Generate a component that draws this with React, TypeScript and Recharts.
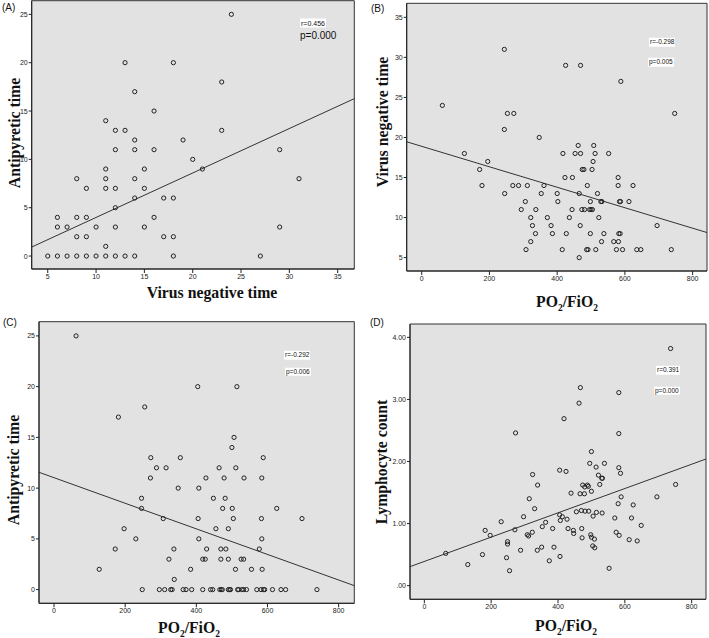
import * as React from 'react'
import { ScatterChart, Scatter, XAxis, YAxis, ReferenceArea, ReferenceLine } from 'recharts'

// (A) virus negative time vs antipyretic time
const aVirus = [24, 13, 18, 23, 14, 16, 11, 12, 13, 23, 14, 19, 12, 14, 16, 29, 20, 11, 15, 21, 8, 11, 14, 31, 9, 11, 12, 15, 14, 17, 18, 12, 6, 8, 9, 16, 6, 7, 10, 12, 15, 29, 8, 9, 17, 18, 11, 5, 6, 7, 8, 9, 10, 11, 12, 13, 14, 18, 27]
const aFever = [25, 20, 20, 18, 17, 15, 14, 13, 13, 13, 12, 12, 11, 11, 11, 11, 10, 9, 9, 9, 8, 8, 8, 8, 7, 7, 7, 7, 6, 6, 6, 5, 4, 4, 4, 4, 3, 3, 3, 3, 3, 3, 2, 2, 2, 2, 1, 0, 0, 0, 0, 0, 0, 0, 0, 0, 0, 0, 0]
const aFit = [0.93, 16.28]

// (B) PO2/FiO2 vs virus negative time
const bRatio = [244, 425, 469, 588, 61, 253, 272, 747, 244, 347, 462, 508, 126, 417, 453, 469, 512, 552, 195, 506, 171, 474, 479, 503, 423, 445, 580, 178, 269, 286, 312, 361, 489, 580, 624, 245, 353, 400, 465, 519, 306, 402, 498, 529, 532, 584, 587, 612, 294, 337, 444, 473, 481, 496, 500, 504, 322, 371, 436, 523, 327, 382, 468, 695, 336, 386, 427, 498, 538, 582, 586, 322, 531, 567, 581, 308, 415, 487, 491, 514, 575, 593, 635, 647, 737, 465]
const bVirus = [31, 29, 29, 27, 24, 23, 23, 23, 21, 20, 19, 19, 18, 18, 18, 18, 18, 18, 17, 17, 16, 16, 16, 16, 15, 15, 15, 14, 14, 14, 14, 14, 14, 14, 14, 13, 13, 13, 13, 13, 12, 12, 12, 12, 12, 12, 12, 12, 11, 11, 11, 11, 11, 11, 11, 11, 10, 10, 10, 10, 9, 9, 9, 9, 8, 8, 8, 8, 8, 8, 8, 7, 7, 7, 7, 6, 6, 6, 6, 6, 6, 6, 6, 6, 6, 5]
const bFit = [19.46, 8.13]

// (C) PO2/FiO2 vs antipyretic time
const cRatio = [62, 404, 514, 255, 181, 506, 500, 272, 355, 588, 288, 315, 464, 511, 271, 427, 478, 534, 584, 349, 407, 448, 481, 246, 246, 474, 501, 626, 307, 405, 504, 583, 697, 197, 455, 490, 230, 407, 584, 172, 337, 429, 469, 483, 577, 323, 418, 425, 469, 490, 526, 533, 127, 384, 510, 555, 585, 338, 248, 296, 311, 328, 332, 363, 371, 387, 418, 440, 446, 466, 470, 473, 490, 494, 496, 516, 519, 528, 533, 541, 570, 582, 589, 592, 614, 638, 651, 739]
const cFever = [25, 20, 20, 18, 17, 15, 14, 13, 13, 13, 12, 12, 12, 12, 11, 11, 11, 11, 11, 10, 10, 9, 9, 9, 8, 8, 8, 8, 7, 7, 7, 7, 7, 6, 6, 6, 5, 5, 5, 4, 4, 4, 4, 4, 4, 3, 3, 3, 3, 3, 3, 3, 2, 2, 2, 2, 2, 1, 0, 0, 0, 0, 0, 0, 0, 0, 0, 0, 0, 0, 0, 0, 0, 0, 0, 0, 0, 0, 0, 0, 0, 0, 0, 0, 0, 0, 0, 0]
const cFit = [11.56, 0.39]

// (D) PO2/FiO2 vs lymphocyte count
const dRatio = [737, 467, 582, 463, 418, 273, 582, 500, 495, 539, 514, 582, 405, 424, 587, 324, 521, 531, 533, 339, 474, 488, 491, 480, 752, 525, 500, 439, 466, 479, 589, 696, 314, 580, 625, 330, 470, 481, 492, 455, 532, 515, 405, 413, 505, 297, 570, 620, 427, 407, 230, 363, 649, 353, 182, 271, 430, 384, 471, 446, 447, 574, 323, 308, 312, 498, 500, 197, 583, 472, 509, 613, 637, 249, 249, 504, 510, 351, 388, 288, 338, 64, 174, 406, 246, 374, 130, 553, 255]
const dLymph = [3.82, 3.19, 3.11, 2.94, 2.69, 2.46, 2.45, 2.16, 1.97, 1.97, 1.91, 1.9, 1.86, 1.84, 1.81, 1.79, 1.78, 1.73, 1.73, 1.62, 1.62, 1.62, 1.6, 1.59, 1.63, 1.63, 1.52, 1.49, 1.48, 1.48, 1.43, 1.43, 1.4, 1.32, 1.3, 1.24, 1.21, 1.2, 1.2, 1.19, 1.17, 1.18, 1.14, 1.11, 1.12, 1.11, 1.09, 1.09, 1.07, 1.05, 1.03, 1.02, 0.97, 0.95, 0.89, 0.9, 0.92, 0.92, 0.92, 0.89, 0.84, 0.86, 0.86, 0.82, 0.8, 0.82, 0.78, 0.81, 0.81, 0.77, 0.75, 0.74, 0.72, 0.71, 0.67, 0.64, 0.61, 0.62, 0.62, 0.57, 0.57, 0.52, 0.5, 0.47, 0.45, 0.4, 0.34, 0.28, 0.24]
const dFit = [0.306, 2.04]

const ratioTicks = [0, 200, 400, 600, 800]

const zip = (xs: number[], ys: number[]) => xs.map((x, i) => ({ x, y: ys[i] }))

const tickStyle = { fontSize: 7, fill: '#222', fontFamily: 'Liberation Sans, Arial, sans-serif' }

const Dot = (p: any) => <circle cx={p.cx} cy={p.cy} r={2.1} fill="none" stroke="#222" strokeWidth={1} />

interface PanelProps {
  data: { x: number; y: number }[]
  fit: number[]
  xDomain: number[]
  yDomain: number[]
  xTicks: number[]
  yTicks: number[]
  width: number
  height: number
  axisW: number
  margin: { top: number; right: number; bottom: number; left: number }
  yFormat?: (v: number) => string
}

function Panel({ data, fit, xDomain, yDomain, xTicks, yTicks, width, height, axisW, margin, yFormat }: PanelProps) {
  return (
    <ScatterChart width={width} height={height} margin={margin}>
      <XAxis
        type="number"
        dataKey="x"
        domain={xDomain}
        allowDataOverflow
        ticks={xTicks}
        height={14}
        tickSize={4}
        tickMargin={1}
        tick={tickStyle}
        stroke="#222"
        interval={0}
      />
      <YAxis
        type="number"
        dataKey="y"
        domain={yDomain}
        allowDataOverflow
        ticks={yTicks}
        width={axisW}
        tickSize={3}
        tickMargin={1}
        tick={tickStyle}
        tickFormatter={yFormat}
        stroke="#222"
        interval={0}
      />
      <ReferenceArea
        x1={xDomain[0]}
        x2={xDomain[1]}
        y1={yDomain[0]}
        y2={yDomain[1]}
        fill="#e2e2e2"
        fillOpacity={1}
        stroke="#333"
        strokeWidth={1}
        ifOverflow="visible"
      />
      <ReferenceLine
        segment={[
          { x: xDomain[0], y: fit[0] },
          { x: xDomain[1], y: fit[1] },
        ]}
        stroke="#333"
        strokeWidth={1}
        ifOverflow="visible"
      />
      <Scatter data={data} shape={Dot} isAnimationActive={false} />
    </ScatterChart>
  )
}

const serif: React.CSSProperties = {
  position: 'absolute',
  fontFamily: 'Liberation Serif, Times New Roman, serif',
  fontWeight: 'bold',
  fontSize: 17.5,
  whiteSpace: 'nowrap',
  lineHeight: 1,
  color: '#111',
}

const sans: React.CSSProperties = {
  position: 'absolute',
  fontFamily: 'Liberation Sans, Arial, sans-serif',
  whiteSpace: 'nowrap',
  lineHeight: 1,
  color: '#111',
}

const Sub = ({ children }: { children: React.ReactNode }) => (
  <span style={{ fontSize: '0.6em', position: 'relative', top: '0.35em' }}>{children}</span>
)

const Ratio = () => (
  <>
    PO<Sub>2</Sub>/FiO<Sub>2</Sub>
  </>
)

function XTitle({ x, y, children }: { x: number; y: number; children: React.ReactNode }) {
  return <div style={{ ...serif, left: x, top: y, transform: 'translate(-50%,-50%) scaleX(0.9)' }}>{children}</div>
}

function YTitle({ x, y, children }: { x: number; y: number; children: React.ReactNode }) {
  return (
    <div style={{ ...serif, left: x, top: y, transform: 'translate(-50%,-50%) rotate(-90deg) scaleX(0.9)' }}>
      {children}
    </div>
  )
}

function Note({ x, y, size, box, children }: { x: number; y: number; size: number; box?: boolean; children: React.ReactNode }) {
  return (
    <div style={{ ...sans, left: x, top: y, fontSize: size, transform: 'translateY(-50%)', background: box ? '#fff' : 'transparent', padding: box ? '1px 1px' : 0 }}>
      {children}
    </div>
  )
}

export default function App() {
  return (
    <div style={{ position: 'absolute', left: 0, top: 0, width: 709, height: 638, background: '#fff', overflow: 'hidden' }}>
      <div style={{ position: 'absolute', left: 0, top: 0 }}>
        <Panel
          data={zip(aVirus, aFever)}
          fit={aFit}
          xDomain={[3.34, 36.72]}
          yDomain={[-1.34, 26.41]}
          xTicks={[5, 10, 15, 20, 25, 30, 35]}
          yTicks={[0, 5, 10, 15, 20, 25]}
          width={360}
          height={290}
          axisW={31.7}
          margin={{ top: 0.7, right: 5.7, bottom: 7, left: 0 }}
        />
      </div>
      <div style={{ position: 'absolute', left: 360, top: 0 }}>
        <Panel
          data={zip(bRatio, bVirus)}
          fit={bFit}
          xDomain={[-44.3, 842.4]}
          yDomain={[3.33, 36.75]}
          xTicks={ratioTicks}
          yTicks={[5, 10, 15, 20, 25, 30, 35]}
          width={349}
          height={290}
          axisW={46.7}
          margin={{ top: 3.3, right: 2, bottom: 5, left: 0 }}
        />
      </div>
      <div style={{ position: 'absolute', left: 0, top: 320 }}>
        <Panel
          data={zip(cRatio, cFever)}
          fit={cFit}
          xDomain={[-42.2, 844]}
          yDomain={[-1.35, 26.4]}
          xTicks={ratioTicks}
          yTicks={[0, 5, 10, 15, 20, 25]}
          width={360}
          height={300}
          axisW={39}
          margin={{ top: 1.7, right: 5.7, bottom: 2.7, left: 0 }}
        />
      </div>
      <div style={{ position: 'absolute', left: 360, top: 320 }}>
        <Panel
          data={zip(dRatio, dLymph)}
          fit={dFit}
          xDomain={[-42.9, 842.9]}
          yDomain={[-0.22, 4.215]}
          xTicks={ratioTicks}
          yTicks={[0, 1, 2, 3, 4]}
          width={349}
          height={300}
          axisW={50}
          margin={{ top: 4, right: 3, bottom: 6.7, left: 0 }}
          yFormat={(v) => (v === 0 ? '.00' : v.toFixed(2))}
        />
      </div>

      <YTitle x={15} y={133}>Antipyretic time</YTitle>
      <XTitle x={212} y={293}>Virus negative time</XTitle>
      <YTitle x={383} y={122}>Virus negative time</YTitle>
      <XTitle x={567} y={302}><Ratio /></XTitle>
      <YTitle x={14} y={470}>Antipyretic time</YTitle>
      <XTitle x={189} y={628}><Ratio /></XTitle>
      <YTitle x={382} y={462}>Lymphocyte count</YTitle>
      <XTitle x={566} y={626}><Ratio /></XTitle>

      <Note x={2} y={8} size={10}>(A)</Note>
      <Note x={371} y={9} size={10}>(B)</Note>
      <Note x={3} y={323} size={10}>(C)</Note>
      <Note x={370} y={323} size={10}>(D)</Note>

      <Note x={300} y={22.7} size={7} box>r=0.456</Note>
      <Note x={300} y={36} size={10}>p=0.000</Note>
      <Note x={649} y={42.3} size={6.5} box>r=-0.298</Note>
      <Note x={648} y={62} size={6.5} box>p=0.005</Note>
      <Note x={284} y={355} size={6.5} box>r=-0.292</Note>
      <Note x={285} y={371.7} size={6.5} box>p=0.006</Note>
      <Note x={656} y={370} size={6.5} box>r=0.391</Note>
      <Note x={654} y={390.7} size={6.5} box>p=0.000</Note>
    </div>
  )
}
